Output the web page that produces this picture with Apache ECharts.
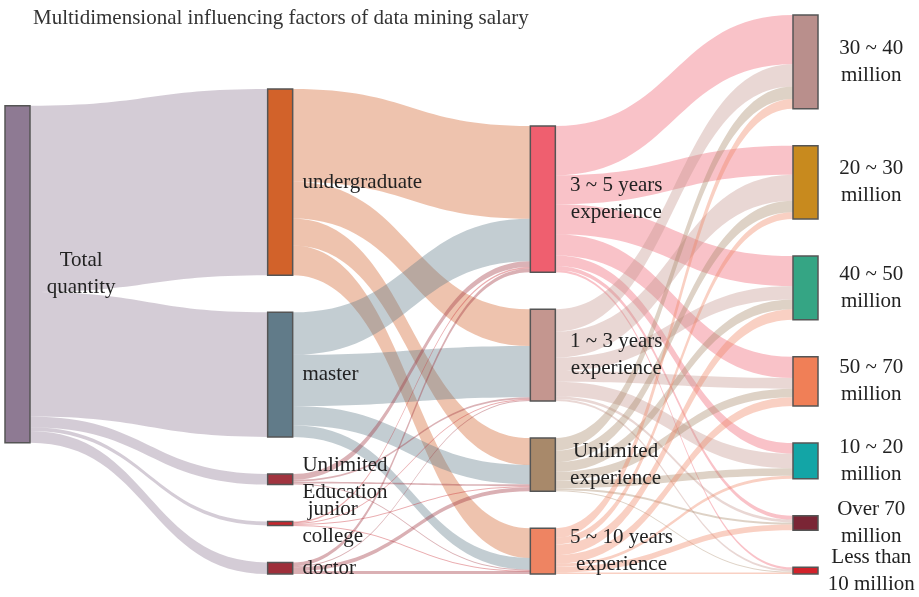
<!DOCTYPE html>
<html>
<head>
<meta charset="utf-8">
<script src="https://cdn.jsdelivr.net/npm/echarts@6/dist/echarts.min.js"></script>
<style>
html,body{margin:0;padding:0;background:#fff;}
#chart{width:919px;height:597px;}
</style>
</head>
<body>
<div id="chart"></div>
<script>
// ---- data ----
const rootName = 'Total quantity';
const educationNames = ['undergraduate', 'master', 'Unlimited Education', 'junior college', 'doctor'];
const educationValues = [193, 129, 11, 4, 12];
const experienceNames = ['3 ~ 5 years experience', '1 ~ 3 years experience', 'Unlimited experience', '5 ~ 10 years experience'];
const salaryNames = ['30 ~ 40 million', '20 ~ 30 million', '40 ~ 50 million', '50 ~ 70 million', '10 ~ 20 million', 'Over 70 million', 'Less than 10 million'];
// rows: education, columns: experience
const eduToExp = [
  [96, 38, 28, 31],
  [44, 53, 20, 12],
  [6, 2, 2, 1],
  [1.5, 1, 1, 0.5],
  [4, 1, 4, 3]
];
// rows: experience, columns: salary
const expToSalary = [
  [51, 30, 31, 22, 11, 4, 2.5],
  [23, 27, 14, 11, 15, 3, 2],
  [13, 12, 10, 9, 8, 2, 1],
  [10, 7, 11, 9, 3, 6, 1.5]
];
const labelLines = {
  'Total quantity': ['Total', 'quantity'],
  'undergraduate': ['undergraduate'],
  'master': ['master'],
  'Unlimited Education': ['Unlimited', 'Education'],
  'junior college': ['junior', 'college'],
  'doctor': ['doctor'],
  '3 ~ 5 years experience': ['3 ~ 5 years', 'experience'],
  '1 ~ 3 years experience': ['1 ~ 3 years', 'experience'],
  'Unlimited experience': ['Unlimited', 'experience'],
  '5 ~ 10 years experience': ['5 ~ 10 years', 'experience'],
  '30 ~ 40 million': ['30 ~ 40', 'million'],
  '20 ~ 30 million': ['20 ~ 30', 'million'],
  '40 ~ 50 million': ['40 ~ 50', 'million'],
  '50 ~ 70 million': ['50 ~ 70', 'million'],
  '10 ~ 20 million': ['10 ~ 20', 'million'],
  'Over 70 million': ['Over 70', 'million'],
  'Less than 10 million': ['Less than', '10 million']
};
const nodeColors = {
  'Total quantity': '#8e7a93',
  'undergraduate': '#d2622a',
  'master': '#617b89',
  'Unlimited Education': '#a1343f',
  'junior college': '#c8262d',
  'doctor': '#9e2f3a',
  '3 ~ 5 years experience': '#ef5f6f',
  '1 ~ 3 years experience': '#c4968f',
  'Unlimited experience': '#a8896a',
  '5 ~ 10 years experience': '#ee8462',
  '30 ~ 40 million': '#b98f8c',
  '20 ~ 30 million': '#c88a1e',
  '40 ~ 50 million': '#35a584',
  '50 ~ 70 million': '#f07f57',
  '10 ~ 20 million': '#13a5a6',
  'Over 70 million': '#7a2535',
  'Less than 10 million': '#d2222a'
};

// ---- build series ----
const allNames = [rootName].concat(educationNames, experienceNames, salaryNames);
const nodes = allNames.map(n => ({ name: n, itemStyle: { color: nodeColors[n] } }));
const links = [];
educationNames.forEach((e, i) => links.push({ source: rootName, target: e, value: educationValues[i] }));
educationNames.forEach((e, i) => experienceNames.forEach((x, j) => {
  if (eduToExp[i][j] > 0) links.push({ source: e, target: x, value: eduToExp[i][j] });
}));
experienceNames.forEach((x, i) => salaryNames.forEach((s, j) => {
  if (expToSalary[i][j] > 0) links.push({ source: x, target: s, value: expToSalary[i][j] });
}));

const FONT = '"Liberation Serif", "Times New Roman", serif';
const richStyle = { c: { align: 'center', fontFamily: FONT, fontSize: 21, lineHeight: 27, color: '#222' } };
const fmt = p => (labelLines[p.name] || [p.name]).map(l => '{c|' + l + '}').join('\n');

const chart = echarts.init(document.getElementById('chart'), null, { renderer: 'canvas' });
chart.setOption({
  animation: false,
  backgroundColor: '#ffffff',
  title: {
    text: 'Multidimensional influencing factors of data mining salary',
    left: 28, top: 3,
    textStyle: { fontFamily: FONT, fontSize: 21, fontWeight: 'normal', color: '#333' }
  },
  series: [{
    type: 'sankey',
    left: 5, right: 101, top: 15, bottom: 23,
    nodeWidth: 25,
    nodeGap: 37,
    draggable: false,
    emphasis: { disabled: true },
    data: nodes,
    links: links,
    itemStyle: { borderColor: '#555', borderWidth: 1.5 },
    lineStyle: { color: 'source', opacity: 0.38, curveness: 0.5 },
    label: { show: true, formatter: fmt, rich: richStyle, fontFamily: FONT, fontSize: 21, color: '#222' },
    levels: [
      { depth: 0, label: { position: 'right', distance: 16 } },
      { depth: 1, label: { position: 'right', distance: 9 } },
      { depth: 2, label: { position: 'right', distance: 14 } },
      { depth: 3, label: { position: [79, '50%'], align: 'center', verticalAlign: 'middle' } }
    ]
  }]
});
</script>
</body>
</html>
